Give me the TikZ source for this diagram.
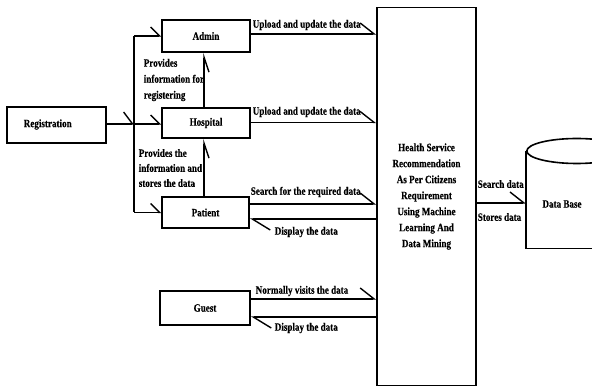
\documentclass[tikz,border=0pt]{standalone}
\usepackage{fontspec}
\setmainfont{Liberation Serif}[FakeStretch=0.81,FakeBold=0.4]
\usetikzlibrary{arrows.meta}
\begin{document}
\begin{tikzpicture}[x=1pt,y=-1pt,line width=1.6pt,
  font=\fontsize{11.2}{16}\selectfont\bfseries,
  box/.style={draw,rectangle,inner sep=0pt},
  lbl/.style={inner sep=0pt,anchor=west},
  tin/.style={-{Straight Barb[left,length=14pt,width=22pt,line width=1.4pt]}},
  tbox/.style={-{Straight Barb[left,length=9pt,width=18pt,line width=1.4pt]}},
  tjun/.style={-{Straight Barb[left,length=9pt,width=24pt,line width=1.4pt]}},
  tdisp/.style={-{Straight Barb[left,length=18pt,width=22pt,line width=1.4pt]}},
  tup/.style={-{Straight Barb[right,length=15pt,width=10pt,line width=1.4pt]}}]
\useasboundingbox (0,0) rectangle (592,387);
\clip (0,0) rectangle (592,387);
% boxes
\node[box,minimum width=99pt,minimum height=36pt] (reg) at (56.5,125) {};
\node[lbl] at (23,124.5) {Registration};
\node[box,minimum width=88pt,minimum height=32pt] (admin) at (206,36) {Admin};
\node[box,minimum width=88pt,minimum height=30pt] (hosp) at (206,123) {Hospital};
\node[box,minimum width=87pt,minimum height=31pt] (pat) at (205.5,212.5) {Patient};
\node[box,minimum width=90pt,minimum height=34pt] (guest) at (205,308) {Guest};
\node[box,minimum width=99pt,minimum height=378pt,align=center] (central) at (426.5,196.5)
  {Health Service\\Recommendation\\As Per Citizens\\Requirement\\Using Machine\\Learning And\\Data Mining};
% database cylinder
\node[inner sep=0pt,minimum width=100pt,minimum height=96pt,anchor=north west] (db) at (526,151) {};
\draw (db.north west) -- (db.south west) -- (db.south east) -- (db.north east);
\draw (db.north) ellipse [x radius=50pt,y radius=12.5pt];
\node at (562,204) {Data Base};
% registration bus
\coordinate (j) at (134,124);
\draw[tjun] (reg.east |- j) -- (j);
\draw[tbox] (j) -- (hosp.west |- j);
\draw (j |- admin.west) -- (j |- pat.west);
\draw[tbox] (j |- admin.west) -- (admin.west);
\draw[tbox] (j |- pat.west) -- (pat.west);
% vertical links
\draw[tup] (hosp.north -| 204,0) -- (admin.south -| 204,0);
\draw[tup] (pat.north -| 204,0) -- (hosp.south -| 204,0);
\node[lbl,align=left,font=\fontsize{11.2}{16}\selectfont\bfseries] at (143,80) {Provides\\information for\\registering};
\node[lbl,align=left,font=\fontsize{11.2}{15}\selectfont\bfseries] at (138,168) {Provides the\\information and\\stores the data};
% to central
\draw[tin] (admin.east |- 0,34) -- (central.west |- 0,34);
\node[lbl] at (252,25) {Upload and update the data};
\draw[tin] (hosp.east |- 0,122.5) -- (central.west |- 0,122.5);
\node[lbl] at (252,112) {Upload and update the data};
\draw[tin] (pat.east |- 0,204) -- (central.west |- 0,204);
\node[lbl] at (250,192) {Search for the required data};
\draw[tdisp] (central.west |- 0,219) -- (pat.east |- 0,219);
\node[lbl] at (274,232) {Display the data};
\draw[tin] (guest.east |- 0,299) -- (central.west |- 0,299);
\node[lbl] at (255,291) {Normally visits the data};
\draw[tdisp] (central.west |- 0,317) -- (guest.east |- 0,317);
\node[lbl] at (274,328) {Display the data};
% to database
\draw[tin] (central.east |- 0,203) -- (db.west |- 0,203);
\node[lbl] at (477,184) {Search data};
\node[lbl] at (477,217) {Stores data};
\end{tikzpicture}
\end{document}
